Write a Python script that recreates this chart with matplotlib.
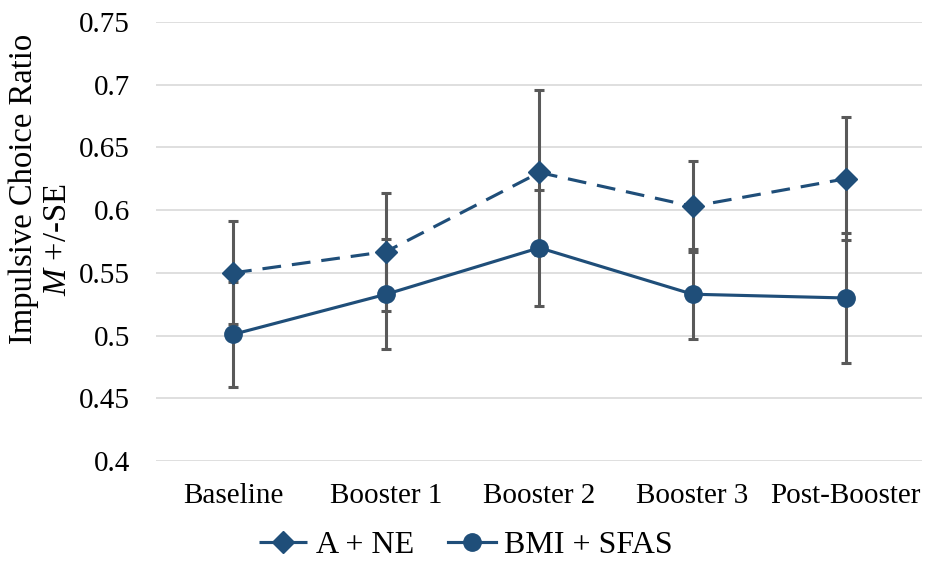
import matplotlib.pyplot as plt

plt.rcParams['font.family'] = ['Liberation Serif', 'DejaVu Serif']
plt.rcParams['mathtext.fontset'] = 'custom'
plt.rcParams['mathtext.rm'] = 'Liberation Serif'
plt.rcParams['mathtext.it'] = 'Liberation Serif:italic'

# data
phases = ['Baseline', 'Booster 1', 'Booster 2', 'Booster 3', 'Post-Booster']
a_ne = [0.550, 0.567, 0.630, 0.603, 0.625]
a_ne_se = [0.041, 0.047, 0.066, 0.036, 0.049]
bmi_sfas = [0.501, 0.533, 0.570, 0.533, 0.530]
bmi_sfas_se = [0.042, 0.044, 0.046, 0.036, 0.052]

line_col = '#1f4e79'
err_col = '#595959'

fig = plt.figure(figsize=(9.26, 5.61), dpi=100)
ax = fig.add_axes([0.169, 0.178, 0.827, 0.783])

x = list(range(len(phases)))
ax.errorbar(x, a_ne, yerr=a_ne_se, fmt='none', ecolor=err_col, elinewidth=2.2,
            capsize=3.5, capthick=2.2, zorder=2)
ax.errorbar(x, bmi_sfas, yerr=bmi_sfas_se, fmt='none', ecolor=err_col, elinewidth=2.2,
            capsize=3.5, capthick=2.2, zorder=2)
ax.plot(x, a_ne, color=line_col, lw=2.25, linestyle=(0, (6, 3.5)), marker='D',
        markersize=11, label='A + NE', zorder=3)
ax.plot(x, bmi_sfas, color=line_col, lw=2.25, marker='o', markersize=12.5,
        label='BMI + SFAS', zorder=3)

ax.set_xlim(-0.5, len(phases) - 0.5)
ax.set_ylim(0.4, 0.75)
ax.set_yticks([0.4, 0.45, 0.5, 0.55, 0.6, 0.65, 0.7, 0.75])
ax.set_yticklabels(['0.4', '0.45', '0.5', '0.55', '0.6', '0.65', '0.7', '0.75'])
ax.set_xticks(x)
ax.set_xticklabels(phases)
ax.tick_params(axis='both', length=0, labelsize=21)
ax.tick_params(axis='y', pad=19)
ax.tick_params(axis='x', pad=16)
ax.grid(axis='y', color='#d9d9d9', lw=1.2)
ax.set_axisbelow(True)
for s in ax.spines.values():
    s.set_visible(False)

# y-axis title, two lines (second one with italic M)
fig.text(24 / 926, 1 - 189 / 561, 'Impulsive Choice Ratio', rotation=90,
         ha='center', va='center', fontsize=23.5)
fig.text(58 / 926, 1 - 240 / 561, r'$M$ +/-SE', rotation=90,
         ha='center', va='center', fontsize=23.5)

h, l = ax.get_legend_handles_labels()
fig.legend(h, l, loc='center', bbox_to_anchor=(466 / 926, 1 - 545 / 561), ncol=2,
           frameon=False, fontsize=23, handlelength=1.5, columnspacing=1.05,
           handletextpad=0.28, borderpad=0)

plt.savefig('out.png', dpi=100)
